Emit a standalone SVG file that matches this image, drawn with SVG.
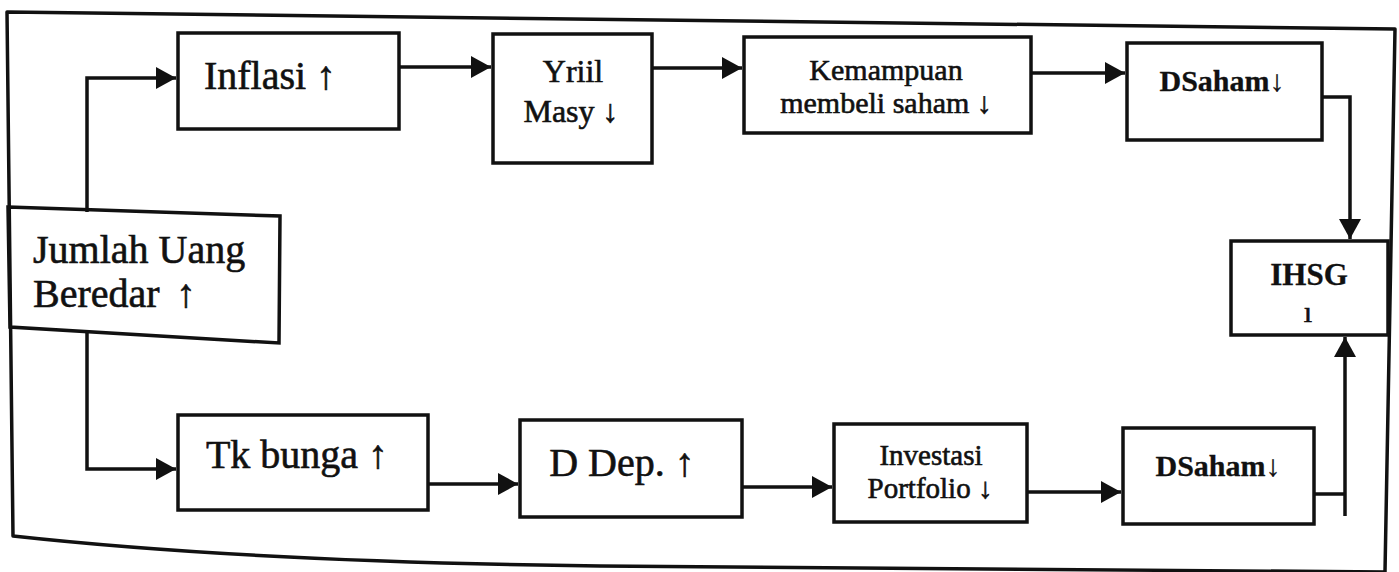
<svg xmlns="http://www.w3.org/2000/svg" width="1399" height="572" viewBox="0 0 1399 572">
<style>
.box{fill:none;stroke:#111;stroke-width:3.5}
.frame{fill:none;stroke:#111;stroke-width:3.5;stroke-linejoin:round}
.t{font-family:"Liberation Serif","Times New Roman",serif;fill:#111;stroke:#111;stroke-width:0.6;text-anchor:middle}
.b{font-weight:bold;stroke-width:0.3}
.c{fill:none;stroke:#111;stroke-width:3.5}
</style>
<defs>
<marker id="ah" markerUnits="userSpaceOnUse" markerWidth="22" markerHeight="24" refX="20" refY="11" orient="auto">
<path d="M0,0 L20,11 L0,22 z" fill="#111"/>
</marker>
</defs>
<rect width="1399" height="572" fill="#fff"/>
<path class="frame" d="M13,536 Q250,562 600,566 L1385,572 L1395,29 L7,12 Z"/>

<g id="connectors">
<path class="c" d="M87,212 V78 H176" marker-end="url(#ah)"/>
<path class="c" d="M87,332 V469 H176" marker-end="url(#ah)"/>
<path class="c" d="M399,67 H491" marker-end="url(#ah)"/>
<path class="c" d="M652,68 H742" marker-end="url(#ah)"/>
<path class="c" d="M1031,73 H1125" marker-end="url(#ah)"/>
<path class="c" d="M1322,97 H1350 V239" marker-end="url(#ah)"/>
<path class="c" d="M428,484 H518" marker-end="url(#ah)"/>
<path class="c" d="M742,487 H832" marker-end="url(#ah)"/>
<path class="c" d="M1027,492 H1121" marker-end="url(#ah)"/>
<path class="c" d="M1314,494 H1345"/>
<path class="c" d="M1345,516 V337" marker-end="url(#ah)"/>
</g>

<g id="jumlah">
<polygon class="box" points="8,207 280,216 279,343 10,327"/>
<text class="t" style="text-anchor:start" font-size="40" x="33" y="263">Jumlah Uang</text>
<text class="t" style="text-anchor:start" font-size="40" x="33" y="307">Beredar <tspan x="176">↑</tspan></text>
</g>

<g id="inflasi">
<rect class="box" x="178" y="33" width="221" height="96"/>
<text class="t" font-size="40" x="270" y="89">Inflasi ↑</text>
</g>

<g id="yriil">
<rect class="box" x="493" y="34" width="159" height="129"/>
<text class="t" font-size="32" x="573" y="82">Yriil</text>
<text class="t" font-size="32" x="571" y="122">Masy ↓</text>
</g>

<g id="kemampuan">
<rect class="box" x="744" y="37" width="287" height="96"/>
<text class="t" font-size="30" x="886" y="80">Kemampuan</text>
<text class="t" font-size="30" x="886" y="113">membeli saham ↓</text>
</g>

<g id="dsaham1">
<rect class="box" x="1127" y="43" width="195" height="97"/>
<text class="t b" font-size="30" x="1222" y="91">DSaham↓</text>
</g>

<g id="ihsg">
<rect class="box" x="1231" y="241" width="157" height="94"/>
<text class="t b" font-size="31" x="1309" y="285">IHSG</text>
<text class="t" font-size="30" x="1308" y="322">ı</text>
</g>

<g id="tkbunga">
<rect class="box" x="178" y="415" width="250" height="95"/>
<text class="t" font-size="40" x="297" y="468">Tk bunga ↑</text>
</g>

<g id="ddep">
<rect class="box" x="520" y="420" width="222" height="97"/>
<text class="t" font-size="40" x="622" y="476">D Dep. ↑</text>
</g>

<g id="investasi">
<rect class="box" x="834" y="424" width="193" height="98"/>
<text class="t" font-size="29" x="931" y="465">Investasi</text>
<text class="t" font-size="29" x="930" y="498">Portfolio ↓</text>
</g>

<g id="dsaham2">
<rect class="box" x="1123" y="428" width="191" height="96"/>
<text class="t b" font-size="30" x="1218" y="476">DSaham↓</text>
</g>
</svg>
